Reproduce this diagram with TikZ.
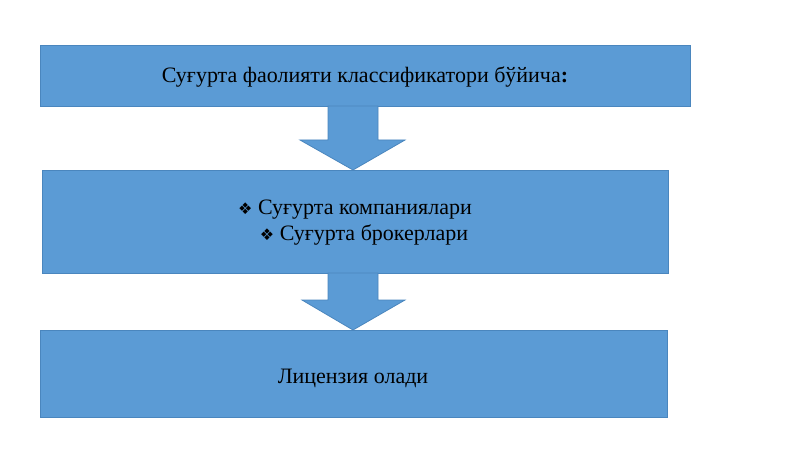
\documentclass[tikz,border=0pt]{standalone}
\usepackage{fontspec}
\setmainfont{Liberation Serif}
\newfontfamily\dejavu{DejaVu Sans}
\begin{document}
\begin{tikzpicture}[x=1pt,y=-1pt,
  box/.style={draw=blue!40!black!60!cyan!80, fill=blue!30!cyan!60!white, line width=0.8pt},
  arr/.style={draw=blue!40!black!60!cyan!80, fill=blue!30!cyan!60!white, line width=0.8pt},
  txt/.style={font=\fontsize{22}{28}\selectfont, align=center}]
\definecolor{bf}{HTML}{5B9BD5}\definecolor{bd}{HTML}{4A86BE}
\tikzset{box/.style={draw=bd, fill=bf, line width=0.8pt}, arr/.style={draw=bd, fill=bf, line width=0.8pt}}
\useasboundingbox (0,0) rectangle (800,449);
\fill[white] (0,0) rectangle (800,449);
\draw[box] (40,45) rectangle (690,106);
\draw[box] (42,170) rectangle (668,273);
\draw[box] (40,330) rectangle (667,417);
\draw[arr] (328,106) -- (378,106) -- (378,140) -- (405,140) -- (353,170) -- (300,140) -- (328,140) -- cycle;
\draw[arr] (328,273) -- (378,273) -- (378,300) -- (405,300) -- (353,330) -- (302,300) -- (328,300) -- cycle;
\node[txt] (t1) at (365,77) {Суғурта фаолияти классификатори бўйича\textbf{:}};
\node[txt] (t2) at (355,223) {{\dejavu\fontsize{16}{20}\selectfont ❖} Суғурта компаниялари\\[-2pt] \hspace{18pt}{\dejavu\fontsize{16}{20}\selectfont ❖} Суғурта брокерлари};
\node[txt] (t3) at (353,378) {Лицензия олади};
\end{tikzpicture}
\end{document}
